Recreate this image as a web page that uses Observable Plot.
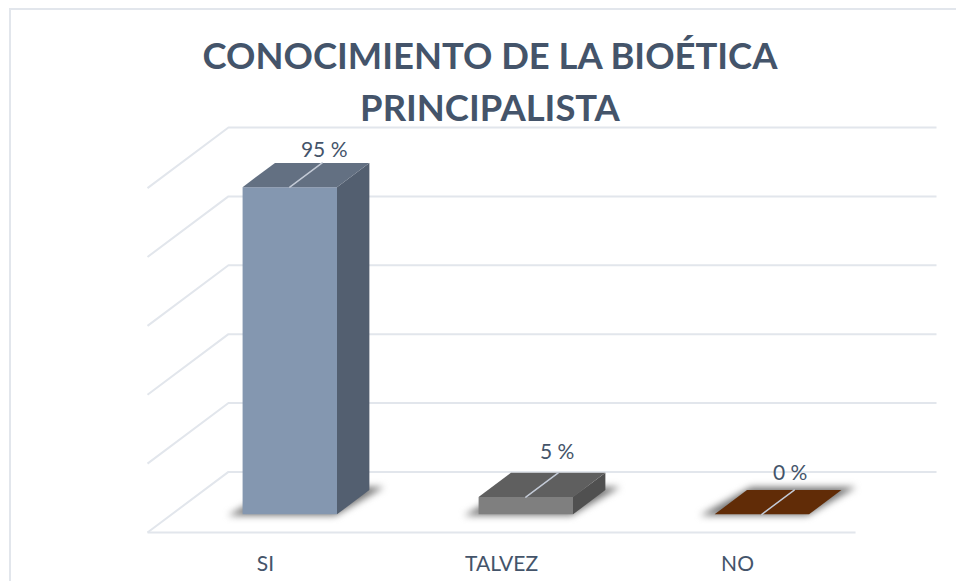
<!DOCTYPE html>
<html><head><meta charset="utf-8">
<script src="https://cdn.jsdelivr.net/npm/d3@7"></script>
<script src="https://cdn.jsdelivr.net/npm/@observablehq/plot@0.6"></script>
<style>
html,body{margin:0;padding:0;background:#fff}
body{width:956px;height:581px;overflow:hidden;position:relative;font-family:Lato,sans-serif}
#frame{position:absolute;left:9px;top:8px;right:0;bottom:0;border-left:2px solid #E2E6EC;border-top:2px solid #E2E6EC}
#chart{position:absolute;left:0;top:0}
h1{position:absolute;left:0;width:980px;top:29px;margin:0;text-align:center;font:700 36.4px/52px Lato,sans-serif;color:#44546A;pointer-events:none;z-index:2}
svg{overflow:visible}
</style></head><body>
<div id="frame"></div>
<div id="chart"></div>
<h1>CONOCIMIENTO DE LA BIOÉTICA<br>PRINCIPALISTA</h1>
<script>
const categories = ["SI", "TALVEZ", "NO"];
const values = [95, 5, 0];
const valueLabels = ["95 %", "5 %", "0 %"];
const gridValues = [0, 20, 40, 60, 80, 100];
const frontColors = ["#8497B0", "#7F7F7F", "#612C07"];
const topColors = ["#637082", "#5F5F5F", "#612C07"];
const sideColors = ["#535F70", "#505050", "#612C07"];

// Oblique projection: depth d (0 front, 1 back) shifts x and y in data units
const kx = 0.343, ky = 17.6;
const P = (i, w, d, v) => ({x: i + w + d * kx, y: v + d * ky});
const d0 = 0.3, d1 = 0.7, w0 = 0.3, w1 = 0.7;
const fillLine = (pts, fill, extra = {}) =>
  Plot.line(pts, {x: "x", y: "y", fill, stroke: "none", curve: "linear", ...extra});
const gridOpts = {x: "x", y: "y", stroke: "#E2E6EC", strokeWidth: 2, strokeLinecap: "butt", curve: "linear"};

const grid = gridValues.flatMap(v => {
  const pts = [P(0, 0, 0, v), P(0, 0, 1, v)];
  pts.push(P(categories.length, 0, 1, v));
  return [Plot.line(pts, gridOpts)];
});
const floorFront = Plot.line([P(0, 0, 0, 0), P(categories.length, 0, 0, 0)], gridOpts);

const shadows = categories.map((_, i) => fillLine(
  [P(i, w0 - 0.055, d0 - 0.02, 0), P(i, w1, d0 - 0.02, 0), P(i, w1 + 0.045, d1 + 0.05, 0), P(i, w0, d1 + 0.05, 0)],
  "#777777", {imageFilter: "blur(3.5px)"}));

const bars = values.flatMap((v, i) => {
  const side = [P(i, w1, d0, 0), P(i, w1, d1, 0), P(i, w1, d1, v), P(i, w1, d0, v)];
  const front = [P(i, w0, d0, 0), P(i, w1, d0, 0), P(i, w1, d0, v), P(i, w0, d0, v)];
  const top = [P(i, w0, d0, v), P(i, w1, d0, v), P(i, w1, d1, v), P(i, w0, d1, v)];
  return [fillLine(side, sideColors[i]), fillLine(front, frontColors[i]), fillLine(top, topColors[i])];
});

const labelDy = [-13, -21, -17];
const labelDx = [2, -1, -4];
const leaders = values.flatMap((v, i) => [
  Plot.line([P(i, 0.5, d0, v), P(i, 0.5, d1, v)], {x: "x", y: "y", stroke: "#C3CAD6", strokeWidth: 1.5, curve: "linear"}),
  Plot.text([P(i, 0.5, d1, v)], {x: "x", y: "y", text: () => valueLabels[i], dy: labelDy[i], dx: labelDx[i],
    fill: "#44546A", fontSize: 21, fontFamily: "Lato, sans-serif"})
]);

const plot = Plot.plot({
  width: 956, height: 581,
  marginLeft: 147, marginRight: 20, marginTop: 127, marginBottom: 49,
  x: {type: "linear", domain: [0, categories.length + kx]},
  y: {type: "linear", domain: [0, 100 + ky]},
  style: {background: "transparent", fontFamily: "Lato, sans-serif"},
  marks: [
    ...grid, floorFront, ...shadows, ...bars, ...leaders,
    Plot.axisX({
      ticks: categories.map((_, i) => i + 0.5),
      tickFormat: t => categories[Math.round(t - 0.5)],
      tickSize: 0, tickPadding: 24, label: null, fontSize: 21, fill: "#44546A", lineHeight: 1
    }),
    Plot.axisY({ticks: [], label: null, tickSize: 0})
  ]
});
document.getElementById("chart").appendChild(plot);
</script>
</body></html>
